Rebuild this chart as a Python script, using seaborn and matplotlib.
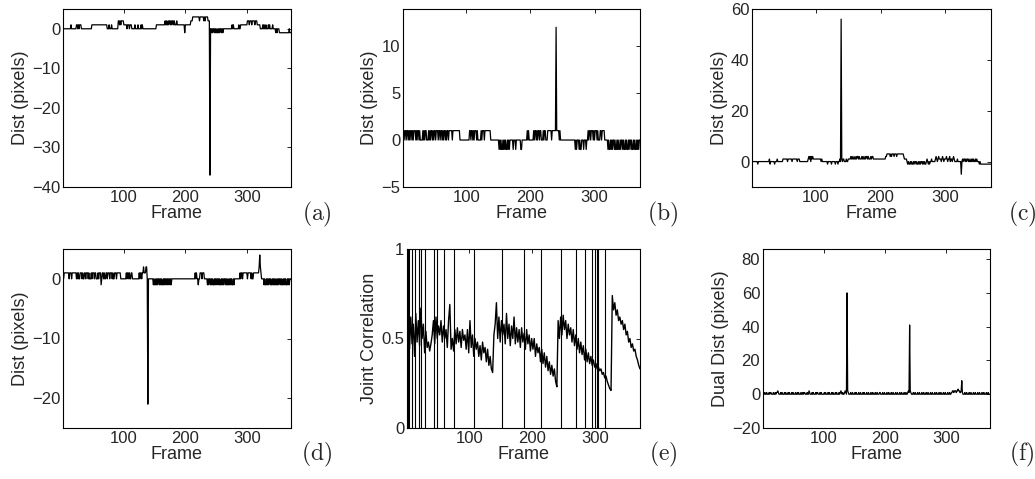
import matplotlib
matplotlib.use("Agg")
import matplotlib.pyplot as plt
import numpy as np
import pandas as pd
import seaborn as sns

# frame numbers of the sequence
n_frames = 371
frames = np.arange(1, n_frames + 1)

# step signals, stored as (first frame, level) pairs
a_steps = [(1, 0), (14, 1), (15, 0), (23, 1), (25, 0), (26, 1), (27, 0), (28, 1), (31, 0), (48, 1), (73, 0), (76, 1), (77, 0),
           (80, 1), (81, 0), (91, 2), (93, 1), (94, 2), (95, 1), (96, 2), (100, 1), (105, 0), (106, 1), (109, 0), (110, 1),
           (113, 0), (118, 1), (119, 0), (123, 1), (124, 0), (128, 1), (129, 0), (130, 1), (131, 0), (153, 1), (167, 2),
           (168, 1), (169, 2), (170, 1), (172, 2), (173, 1), (174, 2), (176, 1), (177, 2), (178, 1), (179, 2), (181, 1),
           (182, 2), (183, 1), (186, 2), (187, 1), (199, -1), (200, 1), (209, 2), (212, 3), (223, 2), (224, 3), (230, 2),
           (231, 3), (232, 2), (233, 3), (237, 2), (240, -37), (241, 0), (242, -1), (243, 0), (244, -1), (245, 0), (247, -1),
           (248, 0), (249, -1), (250, 0), (251, -1), (253, 0), (254, -1), (255, 0), (256, -1), (257, 0), (259, -1), (260, 0),
           (261, -1), (262, 0), (276, 1), (277, 0), (278, 1), (279, 0), (287, 1), (288, 0), (290, 1), (301, 2), (304, 1),
           (305, 2), (308, 1), (309, 2), (313, 1), (314, 2), (317, 1), (322, 0), (326, 1), (327, 0), (328, 1), (329, 0),
           (331, 1), (332, 0), (335, 1), (336, 0), (337, 1), (338, 0), (342, 1), (343, 0), (347, -1), (348, 0), (349, -1),
           (350, 0), (353, -1), (369, 0), (370, -1)]

b_steps = [(1, 1), (4, 0), (5, 1), (7, 0), (8, 1), (10, 0), (11, 1), (12, 0), (13, 1), (15, 0), (16, 1), (17, 0), (18, 1),
           (21, 0), (22, 1), (23, 0), (24, 1), (26, 0), (27, 1), (28, 0), (32, 1), (33, 0), (34, 1), (35, 0), (36, 1), (38, 0),
           (41, 1), (42, 0), (43, 1), (44, 0), (45, 1), (47, 0), (48, 1), (49, 0), (50, 1), (52, 0), (53, 1), (56, 0), (57, 1),
           (59, 0), (60, 1), (62, 0), (63, 1), (64, 0), (65, 1), (67, 0), (68, 1), (69, 0), (70, 1), (72, 0), (73, 1), (78, 0),
           (79, 1), (90, 0), (105, 1), (107, 0), (108, 1), (110, 0), (111, 1), (112, 0), (113, 1), (116, 0), (117, 1),
           (118, 0), (123, 1), (124, 0), (125, 1), (128, 0), (129, 1), (138, 0), (151, -1), (152, 0), (153, -1), (154, 0),
           (155, -1), (157, 0), (158, -1), (159, 0), (160, -1), (161, 0), (162, -1), (164, 0), (165, -1), (166, 0), (167, -1),
           (168, 0), (173, -1), (174, 0), (177, -1), (178, 0), (185, -1), (187, 0), (195, 1), (196, 0), (197, 1), (198, 0),
           (205, 1), (206, 0), (207, 1), (209, 0), (210, 1), (211, 0), (212, 1), (214, 0), (215, 1), (217, 0), (220, 1),
           (221, 0), (222, 1), (224, 0), (227, 1), (233, 0), (234, 1), (240, 12), (241, 1), (245, 0), (246, 1), (247, 0),
           (270, -1), (271, 0), (272, -1), (273, 0), (276, -1), (277, 0), (278, -1), (280, 0), (283, -1), (284, 0), (287, -1),
           (288, 0), (290, 1), (291, 0), (292, 1), (294, 0), (295, 1), (298, 0), (299, 1), (300, 0), (301, 1), (304, 0),
           (305, 1), (306, 0), (309, 1), (311, 0), (312, 1), (316, 0), (321, -1), (322, 0), (323, -1), (325, 0), (326, -1),
           (327, 0), (328, -1), (329, 0), (331, -1), (332, 0), (333, -1), (335, 0), (336, -1), (337, 0), (338, -1), (340, 0),
           (341, -1), (342, 0), (344, -1), (345, 0), (346, -1), (348, 0), (349, -1), (350, 0), (351, -1), (353, 0), (354, -1),
           (355, 0), (357, -1), (358, 0), (359, -1), (361, 0), (362, -1), (363, 0), (364, -1), (366, 0), (367, -1), (368, 0),
           (369, -1), (370, 0)]

c_steps = [(1, 0), (10, -1), (11, 0), (28, 1), (29, -1), (30, 0), (36, -1), (37, 0), (40, 1), (41, 0), (49, 1), (56, 0),
           (57, 1), (63, 0), (64, 1), (71, 0), (72, 1), (75, 0), (88, 1), (89, 2), (90, 1), (91, 2), (92, 0), (93, 2), (94, 1),
           (95, 2), (96, 1), (108, 0), (109, 1), (110, 0), (118, -1), (119, 0), (124, -1), (125, 0), (130, -1), (131, 0),
           (134, -1), (135, 0), (137, 1), (138, 0), (139, 56), (140, 1), (141, 0), (142, 1), (144, 0), (147, 1), (148, 0),
           (150, 1), (154, 2), (155, 1), (156, 2), (157, 1), (159, 2), (160, 1), (162, 2), (163, 1), (164, 2), (166, 1),
           (167, 2), (168, 1), (171, 2), (172, 1), (173, 2), (174, 1), (176, 2), (177, 1), (178, 2), (180, 1), (181, 2),
           (182, 1), (185, 2), (186, 1), (187, 2), (189, 1), (208, 2), (210, 3), (215, 2), (216, 3), (217, 2), (218, 3),
           (221, 2), (222, 3), (225, 2), (226, 3), (236, 2), (237, 1), (241, 0), (242, -1), (243, 0), (244, -1), (246, 0),
           (247, -1), (248, 0), (249, -1), (251, 0), (252, -1), (253, 0), (255, -1), (256, 0), (257, -1), (259, 0), (260, -1),
           (261, 0), (262, -1), (263, 0), (265, -1), (266, 0), (267, -1), (268, 0), (269, -1), (271, 0), (272, 1), (273, 0),
           (274, -1), (275, 0), (276, -1), (277, 0), (279, 1), (280, 0), (285, 1), (286, 2), (287, 1), (288, 0), (289, 1),
           (290, 2), (291, 1), (294, 0), (295, 1), (296, 2), (297, 1), (298, 0), (299, 1), (302, 2), (303, 1), (304, 0),
           (305, 1), (307, 2), (308, 0), (309, 1), (311, 0), (312, 1), (313, 2), (314, 1), (315, 0), (319, 1), (320, 0),
           (325, -5), (326, 0), (327, 1), (328, 0), (329, 1), (331, 0), (332, 1), (333, 0), (334, 1), (336, 0), (337, 1),
           (338, 0), (340, 1), (341, 0), (342, 1), (343, 0), (344, 1), (345, 0), (347, 1), (348, 0), (349, 1), (350, 0),
           (353, -1), (354, 0), (355, -1)]

d_steps = [(1, 0), (3, 1), (11, 0), (12, 1), (15, 0), (16, 1), (23, 0), (24, 1), (25, 0), (26, 1), (27, 0), (29, 1), (32, 0),
           (33, 1), (34, 0), (36, 1), (38, 0), (39, 1), (42, 0), (43, 1), (44, 0), (47, 1), (48, 0), (49, 1), (52, 0), (53, 1),
           (55, 0), (58, 1), (59, 0), (60, 1), (63, -1), (64, 0), (65, 1), (67, 0), (68, 1), (69, 0), (71, 1), (73, 0), (74, 1),
           (77, 0), (78, 1), (81, 0), (82, 1), (83, 0), (85, 1), (88, 0), (89, 1), (95, 0), (104, 1), (105, 0), (106, 1),
           (108, 0), (109, 1), (110, 0), (112, 1), (114, 0), (125, 1), (126, 0), (127, 1), (129, 0), (130, 1), (132, 2),
           (133, 1), (136, 2), (138, 0), (139, -21), (140, 0), (148, -1), (149, 0), (150, -1), (152, 0), (153, -1), (154, 0),
           (155, -1), (156, 0), (158, -1), (159, 0), (160, -1), (161, 0), (162, -1), (164, 0), (165, -1), (166, 0), (167, -1),
           (168, 0), (170, -1), (171, 0), (172, -1), (173, 0), (175, -1), (176, 0), (177, -1), (178, 0), (216, 1), (217, 0),
           (218, 1), (219, 0), (221, -1), (222, 0), (224, 1), (227, 0), (228, 1), (231, 0), (236, -1), (237, 0), (238, -1),
           (239, 0), (241, -1), (242, 0), (243, -1), (244, 0), (245, -1), (247, 0), (248, -1), (249, 0), (250, -1), (251, 0),
           (253, -1), (254, 0), (255, -1), (256, 0), (257, -1), (259, 0), (260, -1), (261, 0), (262, -1), (263, 0), (265, -1),
           (266, 0), (267, -1), (268, 0), (269, -1), (271, 0), (272, -1), (273, 0), (274, -1), (275, 0), (276, -1), (278, 0),
           (279, -1), (280, 0), (289, 1), (290, 0), (291, 1), (293, 0), (294, 1), (301, 0), (302, 1), (307, 0), (308, 1),
           (309, 0), (311, 1), (320, 2), (321, 4), (322, 2), (323, 1), (324, 0), (328, -1), (329, 0), (330, -1), (332, 0),
           (333, -1), (334, 0), (335, -1), (336, 0), (338, -1), (339, 0), (340, -1), (342, 0), (343, -1), (344, 0), (345, -1),
           (346, 0), (347, -1), (349, 0), (350, -1), (351, 0), (352, -1), (353, 0), (355, -1), (356, 0), (357, -1), (359, 0),
           (360, -1), (361, 0), (362, -1), (363, 0), (364, -1), (366, 0), (367, -1), (368, 0), (369, -1), (370, 0)]

f_steps = [(1, 0), (4, 1), (5, 0), (7, 1), (8, 0), (11, 1), (12, 0), (13, 1), (15, 0), (18, 1), (19, 0), (21, 1), (22, 0),
           (23, 1), (25, 2), (26, 1), (27, 0), (30, 1), (31, 0), (32, 1), (33, 0), (36, 1), (37, 0), (38, 1), (39, 0), (42, 1),
           (43, 0), (44, 1), (45, 0), (48, 1), (49, 0), (50, 1), (51, 0), (54, 1), (55, 0), (57, 1), (58, 0), (59, 1), (60, 0),
           (63, 1), (64, 0), (66, 1), (67, 0), (68, 1), (70, 0), (73, 1), (74, 0), (76, 2), (77, 1), (78, 0), (81, 1), (82, 0),
           (83, 1), (84, 0), (87, 1), (88, 0), (89, 1), (91, 0), (94, 1), (95, 0), (96, 1), (97, 0), (101, 1), (102, 0),
           (103, 1), (104, 0), (107, 1), (108, 0), (109, 1), (110, 0), (113, 1), (114, 0), (115, 1), (116, 0), (119, 1),
           (120, 0), (121, 1), (122, 0), (125, 1), (126, 0), (127, 1), (128, 2), (129, 1), (130, 0), (131, 1), (132, 0),
           (134, 1), (135, 2), (136, 1), (137, 0), (138, 60), (139, 2), (140, 1), (141, 0), (144, 1), (145, 0), (147, 1),
           (148, 0), (151, 1), (152, 0), (153, 1), (154, 0), (157, 1), (158, 0), (160, 1), (161, 0), (164, 1), (165, 0),
           (166, 1), (167, 0), (170, 1), (171, 0), (173, 1), (174, 0), (177, 1), (178, 0), (180, 1), (181, 0), (184, 1),
           (185, 0), (187, 1), (188, 0), (191, 1), (193, 0), (196, 1), (197, 0), (199, 1), (200, 0), (203, 1), (204, 0),
           (206, 1), (207, 0), (210, 1), (211, 0), (213, 1), (214, 0), (217, 1), (218, 0), (220, 1), (221, 0), (224, 1),
           (225, 0), (227, 1), (228, 0), (231, 1), (232, 0), (234, 1), (235, 0), (237, 1), (238, 2), (239, 1), (240, 41),
           (241, 2), (242, 1), (243, 0), (246, 1), (247, 0), (249, 1), (250, 0), (253, 1), (254, 0), (256, 1), (257, 0),
           (260, 1), (261, 0), (263, 1), (264, 0), (267, 1), (268, 0), (270, 1), (271, 0), (274, 1), (275, 0), (277, 1),
           (278, 0), (281, 1), (282, 0), (284, 1), (285, 0), (288, 1), (289, 0), (291, 1), (292, 0), (295, 1), (296, 0),
           (298, 1), (299, 0), (302, 1), (303, 0), (305, 1), (306, 0), (308, 1), (310, 2), (312, 1), (313, 2), (316, 1),
           (317, 2), (319, 3), (320, 2), (322, 1), (324, 2), (325, 8), (326, 1), (327, 0), (330, 1), (331, 0), (333, 1),
           (334, 0), (337, 1), (338, 0), (340, 1), (341, 0), (344, 1), (345, 0), (347, 1), (348, 0), (351, 1), (352, 0),
           (354, 1), (355, 0), (358, 1), (359, 0), (361, 1), (362, 0), (365, 1), (366, 0), (368, 1), (369, 0)]

# joint correlation, sampled every 2nd frame starting at frame 1
corr_vals = [0.50, 0.60, 0.44, 0.62, 0.47, 0.58, 0.40, 0.64, 0.48, 0.60,
             0.46, 0.67, 0.50, 0.58, 0.42, 0.54, 0.45, 0.48, 0.43, 0.47,
             0.52, 0.60, 0.47, 0.62, 0.50, 0.57, 0.52, 0.60, 0.48, 0.57,
             0.50, 0.55, 0.45, 0.60, 0.69, 0.44, 0.50, 0.43, 0.55, 0.47,
             0.56, 0.48, 0.54, 0.45, 0.55, 0.49, 0.52, 0.44, 0.55, 0.42,
             0.60, 0.45, 0.52, 0.40, 0.50, 0.44, 0.48, 0.40, 0.46, 0.38,
             0.48, 0.42, 0.45, 0.37, 0.44, 0.35, 0.40, 0.33, 0.31, 0.52,
             0.58, 0.70, 0.50, 0.62, 0.48, 0.60, 0.52, 0.58, 0.47, 0.64,
             0.50, 0.58, 0.46, 0.57, 0.50, 0.62, 0.47, 0.56, 0.48, 0.55,
             0.45, 0.56, 0.48, 0.53, 0.44, 0.55, 0.47, 0.52, 0.43, 0.50,
             0.44, 0.50, 0.40, 0.47, 0.42, 0.45, 0.37, 0.44, 0.36, 0.42,
             0.34, 0.40, 0.32, 0.37, 0.30, 0.35, 0.29, 0.33, 0.26, 0.23,
             0.60, 0.50, 0.62, 0.52, 0.63, 0.55, 0.60, 0.50, 0.58, 0.52,
             0.56, 0.48, 0.55, 0.46, 0.52, 0.44, 0.50, 0.42, 0.48, 0.41,
             0.46, 0.38, 0.44, 0.37, 0.42, 0.36, 0.40, 0.35, 0.38, 0.34,
             0.36, 0.33, 0.34, 0.32, 0.33, 0.30, 0.31, 0.28, 0.29, 0.26,
             0.24, 0.22, 0.21, 0.74, 0.66, 0.70, 0.63, 0.66, 0.60, 0.62,
             0.58, 0.60, 0.55, 0.58, 0.52, 0.54, 0.48, 0.50, 0.45, 0.47,
             0.43, 0.44, 0.40, 0.38, 0.35, 0.33]
corr_frames = 1 + 2 * np.arange(len(corr_vals))

# frames flagged in panel (e)
marked_frames = [2, 3, 4, 9, 14, 20, 23, 30, 44, 49, 60, 76, 108, 152, 187, 213, 245, 270, 284, 294, 300, 302, 304, 315]


def from_steps(steps):
    starts = [s for s, _ in steps]
    levels = np.array([v for _, v in steps], float)
    return levels[np.searchsorted(starts, frames, side="right") - 1]


sns.set_style("white")
plt.rcParams["font.family"] = ["Liberation Sans", "DejaVu Sans"]
plt.rcParams["mathtext.fontset"] = "cm"
plt.rcParams["axes.edgecolor"] = "black"
plt.rcParams["axes.linewidth"] = 0.8

fig = plt.figure(figsize=(10.35, 4.79), dpi=100)
W, H = 1035, 479


def make_axes(left, top, right, bottom):
    return fig.add_axes([left / W, 1 - bottom / H, (right - left) / W, (bottom - top) / H])


panels = [
    ("(a)", make_axes(63, 9, 290.5, 187), from_steps(a_steps), (-40, 5), [-40, -30, -20, -10, 0], "Dist (pixels)", (317, 214)),
    ("(b)", make_axes(403, 8.5, 640, 187), from_steps(b_steps), (-5, 14), [-5, 0, 5, 10], "Dist (pixels)", (663, 214)),
    ("(c)", make_axes(752, 9, 991, 187), from_steps(c_steps), (-10, 60), [0, 20, 40, 60], "Dist (pixels)", (1022, 214)),
    ("(d)", make_axes(63, 249, 290.5, 428), from_steps(d_steps), (-25, 5), [-20, -10, 0], "Dist (pixels)", (317, 454)),
    ("(e)", make_axes(407, 249, 640, 428), None, (0, 1), [0, 0.5, 1], "Joint Correlation", (663, 454)),
    ("(f)", make_axes(763, 249, 990, 428), from_steps(f_steps), (-20, 86), [-20, 0, 20, 40, 60, 80], "Dual Dist (pixels)", (1022, 454)),
]

for tag, ax, vals, ylim, yticks, ylabel, tag_pos in panels:
    if vals is None:
        ax.vlines(marked_frames, 0, 1, color="black", linewidth=0.8)
        df = pd.DataFrame({"Frame": corr_frames, "val": corr_vals})
        lw = 1.0
    else:
        df = pd.DataFrame({"Frame": frames, "val": vals})
        lw = 0.9
    sns.lineplot(data=df, x="Frame", y="val", ax=ax, color="black", linewidth=lw, estimator=None)
    ax.set_xlim(1, n_frames)
    ax.set_ylim(*ylim)
    ax.set_xticks([100, 200, 300])
    ax.set_yticks(yticks)
    if tag == "(e)":
        ax.set_yticklabels(["0", "0.5", "1"])
    ax.set_xlabel("Frame", fontsize=13, labelpad=0)
    ax.set_ylabel(ylabel, fontsize=13, labelpad=2)
    ax.tick_params(direction="in", length=3, width=0.6, top=True, right=True, labelsize=12, pad=2, color="black")
    for sp in ax.spines.values():
        sp.set_visible(True)
        sp.set_color("black")
    fig.text(tag_pos[0] / W, 1 - tag_pos[1] / H, r"$\mathrm{" + tag + "}$", fontsize=17, ha="center", va="center")

fig.savefig("out.png", dpi=100)
